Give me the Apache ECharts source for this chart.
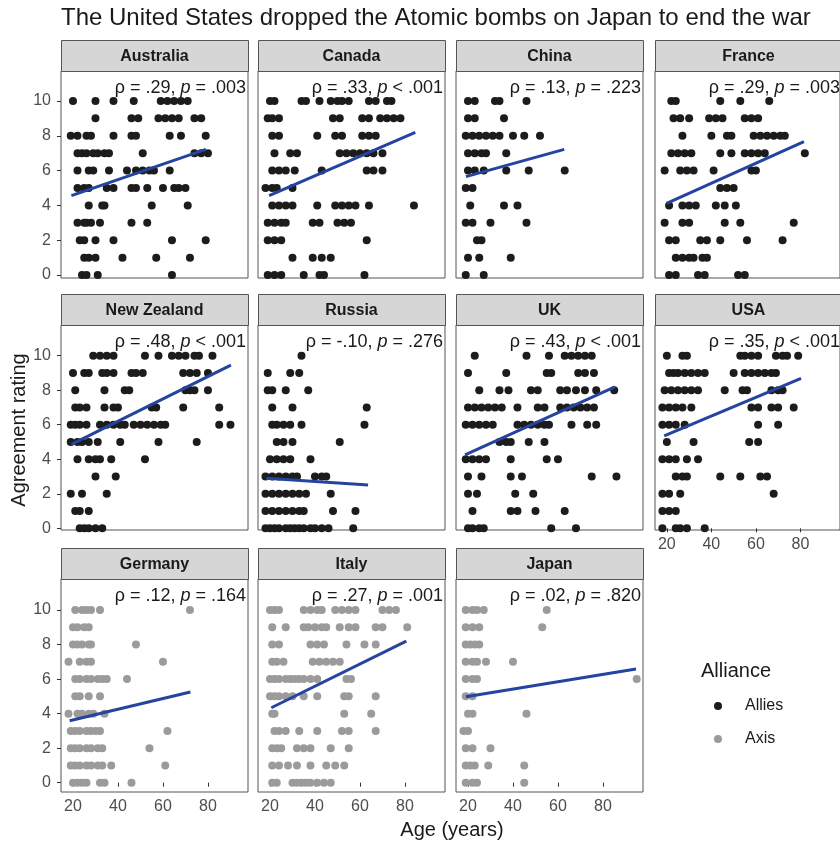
<!DOCTYPE html>
<html>
<head>
<meta charset="utf-8">
<title>Atomic bombs agreement by age</title>
<script src="https://cdn.jsdelivr.net/npm/echarts@6/dist/echarts.min.js"></script>
<style>
  html, body { margin: 0; padding: 0; background: #fff; }
  #chart { width: 840px; height: 843px; }
</style>
</head>
<body>
<div id="chart"></div>
<script>
// Panels in facet order
const countries = ['Australia', 'Canada', 'China', 'France', 'New Zealand', 'Russia', 'UK', 'USA', 'Germany', 'Italy', 'Japan'];
const alliance = ['Allies', 'Allies', 'Allies', 'Allies', 'Allies', 'Allies', 'Allies', 'Allies', 'Axis', 'Axis', 'Axis'];

// Spearman correlation labels
const rhoText = ['.29', '.33', '.13', '.29', '.48', '-.10', '.43', '.35', '.12', '.27', '.02'];
const pText = ['= .003', '< .001', '= .223', '= .003', '< .001', '= .276', '< .001', '< .001', '= .164', '= .001', '= .820'];

// Linear fit end points [age, rating]
const fitStart = [[19.3, 4.56], [19.6, 4.56], [19.1, 5.65], [19.9, 4.12], [19.3, 4.86], [18.4, 2.90], [18.7, 4.25], [18.8, 5.35], [18.5, 3.59], [20.6, 4.34], [19.1, 4.98]];
const fitEnd = [[79.1, 7.22], [84.6, 8.20], [62.8, 7.22], [81.6, 7.66], [90.2, 9.46], [63.6, 2.51], [85.3, 8.20], [80.3, 8.69], [72.2, 5.25], [80.6, 8.20], [94.7, 6.58]];

// Respondent ages, one row per rating from 10 down to 0
const agesAustralia = [
  [20, 30, 38, 47, 59, 62, 65, 68, 71],
  [30, 46, 49, 58, 61, 64, 67, 74, 77],
  [19, 22, 26, 28, 38, 46, 48, 63, 68, 79],
  [22, 24, 26, 29, 31, 34, 36, 51, 74, 77, 80],
  [22, 27, 29, 36, 44, 48, 51, 54, 56, 63],
  [22, 25, 27, 35, 38, 46, 48, 53, 60, 65, 67, 70],
  [27, 33, 34, 55, 71],
  [22, 25, 26, 28, 32, 46, 53],
  [23, 25, 30, 38, 64, 79],
  [25, 27, 30, 42, 57, 72],
  [24, 26, 31, 64]
];
const agesCanada = [
  [20, 22, 34, 36, 42, 47, 50, 52, 55, 64, 67, 72, 74],
  [19, 21, 24, 48, 51, 61, 64, 69, 72, 75, 78],
  [21, 24, 41, 49, 52, 61, 64, 67],
  [22, 29, 32, 51, 54, 57, 60, 63, 66, 70],
  [21, 24, 27, 31, 43, 63, 66, 70],
  [18, 21, 23, 30],
  [21, 24, 27, 30, 41, 49, 52, 55, 58, 64, 84],
  [19, 22, 25, 27, 39, 42, 50, 53, 56],
  [19, 22, 25, 63],
  [30, 39, 43, 47],
  [19, 22, 25, 35, 42, 44, 62]
];
const agesChina = [
  [20, 23, 32, 34, 46],
  [20, 23, 36],
  [19, 22, 25, 28, 31, 34, 40, 45, 52],
  [20, 23, 26, 28, 37],
  [20, 23, 27, 37, 47, 63],
  [19, 22],
  [21, 36, 42],
  [19, 22, 30, 46],
  [24, 26],
  [20, 25, 39],
  [19, 27]
];
const agesFrance = [
  [22, 24, 44, 53, 66],
  [23, 26, 30, 39, 42, 45, 55, 58, 61],
  [27, 40, 47, 49, 59, 62, 65, 68, 71, 73],
  [22, 25, 28, 31, 44, 49, 55, 58, 61, 64, 82],
  [19, 26, 29, 32, 41, 58, 60],
  [44, 47, 50],
  [21, 27, 30, 33, 42, 46, 51],
  [19, 27, 30, 46, 53, 77],
  [21, 24, 35, 38, 44, 56, 72],
  [24, 27, 30, 32, 36, 38],
  [21, 24, 34, 37, 52, 55]
];
const agesNewZealand = [
  [29, 32, 35, 38, 52, 58, 64, 67, 70, 74, 76, 82],
  [20, 25, 27, 33, 35, 38, 46, 48, 51, 69, 72, 75, 80],
  [21, 34, 43, 45, 70, 72, 74, 80],
  [21, 23, 26, 34, 38, 40, 55, 57, 69, 85],
  [19, 21, 23, 26, 32, 35, 38, 41, 43, 47, 50, 53, 56, 59, 61, 85, 90],
  [19, 22, 24, 27, 31, 41, 58, 75],
  [22, 27, 30, 32, 37, 52],
  [30, 39],
  [19, 24, 35],
  [21, 23, 27],
  [23, 25, 27, 30, 33]
];
const agesRussia = [
  [34],
  [19, 29, 33],
  [19, 21, 27, 37],
  [21, 30, 63],
  [21, 23, 26, 29, 34, 62],
  [23, 26, 30, 51],
  [20, 23, 26, 29, 38],
  [18, 21, 24, 27, 30, 32, 40, 43, 45],
  [18, 21, 24, 27, 30, 33, 36, 47],
  [18, 21, 24, 27, 30, 33, 35, 48, 58],
  [18, 20, 22, 24, 27, 29, 31, 33, 35, 38, 40, 43, 46, 57]
];
const agesUK = [
  [23, 46, 56, 63, 66, 69, 72, 75],
  [20, 37, 55, 57, 69, 72, 76],
  [25, 34, 38, 48, 51, 61, 64, 68, 72, 77, 85],
  [20, 23, 26, 29, 32, 35, 42, 51, 54, 61, 64, 67, 70, 73, 76],
  [19, 22, 25, 28, 31, 42, 45, 48, 51, 54, 56, 66, 73, 77],
  [34, 37, 39, 47, 54],
  [19, 22, 25, 28, 39, 55, 60],
  [20, 26, 39, 44, 75, 86],
  [20, 24, 41, 49],
  [22, 39, 42, 50, 63],
  [20, 22, 25, 27, 57, 68]
];
const agesUSA = [
  [20, 27, 29, 53, 55, 58, 61, 69, 72, 74, 79],
  [21, 23, 25, 28, 31, 34, 37, 50, 55, 58, 61, 64, 67, 69],
  [19, 22, 25, 28, 31, 34, 46, 54, 56, 67, 70, 72],
  [18, 21, 24, 27, 31, 58, 61, 67, 70, 77],
  [18, 21, 24, 28, 61, 70],
  [20, 32, 57, 61],
  [18, 21, 24, 29, 34],
  [24, 27, 29, 44, 53, 62, 65],
  [18, 21, 26, 68],
  [18, 21, 24],
  [18, 24, 26, 29, 37]
];
const agesGermany = [
  [21, 24, 26, 28, 32, 72],
  [20, 22, 25, 27],
  [20, 22, 24, 27, 28, 48],
  [18, 23, 26, 28, 60],
  [21, 23, 26, 28, 31, 33, 35, 44],
  [21, 23, 27, 32],
  [18, 22, 24, 27, 29, 34],
  [19, 21, 23, 26, 28, 30, 32, 62],
  [19, 21, 23, 26, 28, 31, 33, 54],
  [19, 21, 23, 26, 28, 31, 33, 37, 61],
  [20, 22, 24, 26, 32, 34, 46]
];
const agesItaly = [
  [20, 22, 24, 35, 38, 41, 43, 49, 52, 55, 58, 70, 73, 76],
  [21, 27, 35, 37, 40, 43, 45, 51, 55, 58, 67, 70, 81],
  [21, 24, 38, 41, 44, 54, 62, 67],
  [21, 23, 26, 39, 42, 45, 48, 51],
  [20, 22, 24, 27, 29, 31, 33, 35, 38, 41, 54, 56],
  [20, 22, 24, 27, 30, 35, 41, 53, 55, 67],
  [21, 22, 53, 65],
  [22, 24, 27, 33, 41, 52, 55, 67],
  [21, 23, 25, 32, 35, 38, 47, 55],
  [21, 24, 28, 32, 38, 45, 49, 53],
  [21, 23, 30, 32, 34, 36, 38, 41, 44, 47]
];
const agesJapan = [
  [19, 22, 24, 27, 55],
  [19, 22, 25, 53],
  [19, 21, 23, 25],
  [19, 22, 24, 28, 40],
  [19, 22, 24, 95],
  [19, 22],
  [20, 22, 46],
  [18, 20],
  [19, 22, 30],
  [19, 21, 23, 29, 45],
  [19, 22, 24, 45]
];
const agesByPanel = [agesAustralia, agesCanada, agesChina, agesFrance, agesNewZealand, agesRussia,
  agesUK, agesUSA, agesGermany, agesItaly, agesJapan];

const xTicks = [20, 40, 60, 80];
const yTicks = [0, 2, 4, 6, 8, 10];

// Facet layout (pixels)
const colLeft = [61, 258, 456, 655];
const panelW = 187;
const stripTop = [40, 294, 548];
const stripH = 31;
const plotH = [207, 205, 213];
const yMin = [-0.17, -0.1, -0.54];
const yMax = [11.72, 11.78, 11.8];
const xMin = 14.67, xMax = 97.8;

const FONT = 'Liberation Sans, Arial, Helvetica, sans-serif';
const colorOf = { Allies: '#1c1c1c', Axis: '#9b9b9b' };
const fitColor = '#2444a0';

const grids = [], xAxes = [], yAxes = [], series = [], graphics = [];

countries.forEach((name, i) => {
  const row = Math.floor(i / 4), col = i % 4;
  const left = colLeft[col];
  const top = stripTop[row] + stripH;
  const showX = row === 2 || i === 7;
  const showY = col === 0;

  grids.push({
    left: left, top: top, width: panelW, height: plotH[row],
    show: true, borderColor: '#555', borderWidth: 1, backgroundColor: '#fff'
  });
  xAxes.push({
    gridIndex: i, type: 'value', min: xMin, max: xMax,
    splitLine: { show: false }, axisLine: { show: false },
    axisTick: { show: showX, customValues: xTicks, length: 4, lineStyle: { color: '#333' } },
    axisLabel: { show: showX, customValues: xTicks, color: '#4d4d4d', fontSize: 16, fontFamily: FONT, margin: 7 }
  });
  yAxes.push({
    gridIndex: i, type: 'value', min: yMin[row], max: yMax[row],
    splitLine: { show: false }, axisLine: { show: false },
    axisTick: { show: showY, customValues: yTicks, length: 4, lineStyle: { color: '#333' } },
    axisLabel: { show: showY, customValues: yTicks, color: '#4d4d4d', fontSize: 16, fontFamily: FONT, margin: 10 }
  });

  const pts = [];
  agesByPanel[i].forEach((ages, k) => {
    const rating = 10 - k;
    ages.forEach(a => pts.push([a, rating]));
  });
  series.push({
    name: alliance[i], type: 'scatter', xAxisIndex: i, yAxisIndex: i,
    data: pts, symbol: 'circle', symbolSize: 8, z: 2, silent: true,
    itemStyle: { color: colorOf[alliance[i]], opacity: 1 }
  });
  series.push({
    name: 'fit', type: 'line', xAxisIndex: i, yAxisIndex: i,
    data: [fitStart[i], fitEnd[i]], symbol: 'none', z: 3, silent: true,
    lineStyle: { color: fitColor, width: 3 }
  });

  // strip header
  graphics.push({
    type: 'rect', shape: { x: left + 0.5, y: stripTop[row] + 0.5, width: panelW, height: stripH },
    style: { fill: '#d6d6d6', stroke: '#555', lineWidth: 1 }, z: 1
  });
  graphics.push({
    type: 'text', x: left + panelW / 2, y: stripTop[row] + stripH / 2 + 1, z: 5,
    style: { text: name, font: 'bold 16px ' + FONT, fill: '#1a1a1a', textAlign: 'center', textVerticalAlign: 'middle' }
  });
  // correlation label
  graphics.push({
    type: 'text', x: left + panelW - 2, y: top + 17, z: 100,
    style: {
      text: '{n|ρ = ' + rhoText[i] + ', }{i|p}{n| ' + pText[i] + '}',
      textAlign: 'right', textVerticalAlign: 'middle',
      rich: {
        n: { fontSize: 18, fontFamily: FONT, fill: '#1a1a1a', color: '#1a1a1a' },
        i: { fontSize: 18, fontFamily: FONT, fontStyle: 'italic', fill: '#1a1a1a', color: '#1a1a1a' }
      }
    }
  });
});

// titles
graphics.push({
  type: 'text', x: 61, y: 18, z: 100,
  style: { text: 'The United States dropped the Atomic bombs on Japan to end the war', font: '24px ' + FONT, fill: '#1a1a1a', textAlign: 'left', textVerticalAlign: 'middle' }
});
graphics.push({
  type: 'text', x: 452, y: 830, z: 100,
  style: { text: 'Age (years)', font: '20px ' + FONT, fill: '#1a1a1a', textAlign: 'center', textVerticalAlign: 'middle' }
});
graphics.push({
  type: 'text', x: 19, y: 430, rotation: Math.PI / 2, z: 100,
  style: { text: 'Agreement rating', font: '20px ' + FONT, fill: '#1a1a1a', textAlign: 'center', textVerticalAlign: 'middle' }
});
graphics.push({
  type: 'text', x: 701, y: 671, z: 100,
  style: { text: 'Alliance', font: '20px ' + FONT, fill: '#1a1a1a', textAlign: 'left', textVerticalAlign: 'middle' }
});

const chart = echarts.init(document.getElementById('chart'), null, { renderer: 'canvas' });
chart.setOption({
  animation: false,
  backgroundColor: '#fff',
  grid: grids,
  xAxis: xAxes,
  yAxis: yAxes,
  legend: {
    data: ['Allies', 'Axis'], orient: 'vertical', left: 709, top: 693,
    itemWidth: 44, itemHeight: 8, itemGap: 17, icon: 'circle', selectedMode: false,
    textStyle: { fontSize: 16, fontFamily: FONT, color: '#1a1a1a' }
  },
  series: series,
  graphic: graphics
});
</script>
</body>
</html>
